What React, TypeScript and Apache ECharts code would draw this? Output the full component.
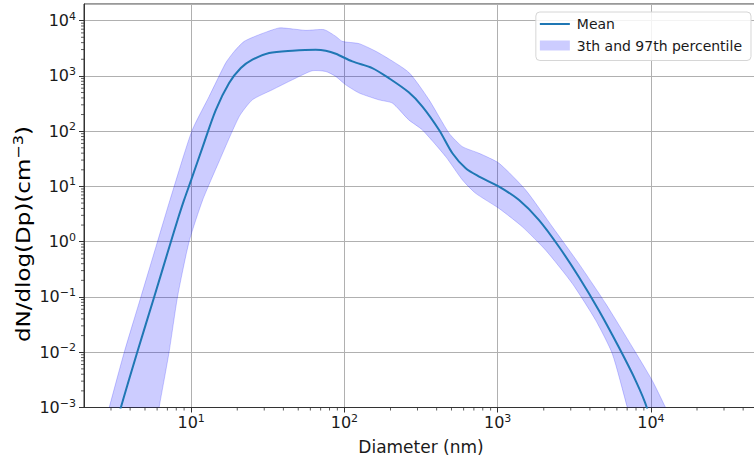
import React, { useEffect, useRef } from 'react';
import * as echarts from 'echarts';

// Mean size distribution
const meanX = [2.78, 3.48, 4.45, 5.74, 7.38, 8.15, 9.0, 10, 11.9, 14.5, 17.7, 21.1, 25.1, 32.3, 45.8, 65, 75.6, 87.9, 112.7, 152, 195, 263, 323, 415, 507, 619, 757, 1021, 1380, 1862, 2513, 3390, 4580, 6170, 7940, 9400, 11500];
const meanY = [0.0001, 0.001, 0.01, 0.1, 1, 2.45, 5.7, 13, 52, 243, 742, 1387, 1963, 2594, 2858, 2977, 2858, 2512, 1828, 1387, 912, 505, 279, 105, 39.8, 21.3, 15.1, 9.9, 5.67, 2.46, 0.81, 0.23, 0.057, 0.0124, 0.0031, 0.001, 0.0001];

// 97th percentile (upper edge of band)
const upperX = [2.33, 2.92, 3.66, 4.7, 6.03, 7.28, 10.1, 13.1, 16.8, 19.1, 22.2, 27.8, 37.5, 45.8, 56, 73.8, 87.9, 97, 125, 168, 263, 357, 482, 589, 757, 1021, 1525, 2275, 3390, 5070, 7570, 10190, 12470, 18800];
const upperY = [0.0001, 0.001, 0.01, 0.1, 1, 5.7, 100, 424, 1710, 2773, 4215, 5570, 7380, 7080, 6670, 6870, 5190, 4215, 3830, 2600, 1160, 369, 92, 52.5, 39.8, 26.3, 8.6, 1.86, 0.4, 0.076, 0.0124, 0.0031, 0.001, 0.0001];

// 3th percentile (lower edge of band)
const lowerX = [5.32, 6.18, 7.18, 8.15, 9.7, 11.9, 15.2, 20.6, 25.1, 33.9, 45.8, 61.8, 75.6, 87.9, 102, 125, 168, 206, 263, 323, 458, 589, 719, 1021, 1449, 2060, 3070, 4365, 5600, 7020, 8860];
const lowerY = [0.0001, 0.001, 0.01, 0.1, 1, 5.7, 28, 184, 369, 561, 851, 1239, 1202, 977, 690, 489, 369, 321, 160, 105, 34.7, 13.1, 7.5, 4.0, 1.86, 0.7, 0.175, 0.0378, 0.0094, 0.001, 0.0001];

// Axis ranges and minor tick positions
const xRange = [2, 50000];
const yRange = [0.001, 20000];
const xMinorTicks = [3, 4, 5, 6, 7, 8, 9, 20, 30, 40, 50, 60, 70, 80, 90, 200, 300, 400, 500, 600, 700, 800, 900, 2000, 3000, 4000, 5000, 6000, 7000, 8000, 9000, 20000, 30000, 40000];
const yMinorTicks = [0.002, 0.003, 0.004, 0.005, 0.006, 0.007, 0.008, 0.009, 0.02, 0.03, 0.04, 0.05, 0.06, 0.07, 0.08, 0.09, 0.2, 0.3, 0.4, 0.5, 0.6, 0.7, 0.8, 0.9, 2, 3, 4, 5, 6, 7, 8, 9, 20, 30, 40, 50, 60, 70, 80, 90, 200, 300, 400, 500, 600, 700, 800, 900, 2000, 3000, 4000, 5000, 6000, 7000, 8000, 9000];

const FONT = 'DejaVu Sans';
const MEAN_NAME = 'Mean';
const BAND_NAME = '3th and 97th percentile';

function powLabel(v: number): string {
  const l = Math.log10(v);
  const e = Math.round(l);
  if (Math.abs(l - e) > 1e-6) return '';
  const sup = e < 0 ? '\u2212' + String(-e) : String(e);
  return '{b|10}{s|' + sup + '}';
}

const tickRich = {
  b: { fontSize: 16, fontFamily: FONT, color: '#1a1a1a', lineHeight: 20 },
  s: { fontSize: 11, fontFamily: FONT, color: '#1a1a1a', lineHeight: 11, verticalAlign: 'top' },
};

export default function App() {
  const ref = useRef<HTMLDivElement>(null);
  useEffect(() => {
    if (!ref.current) return;
    const chart = echarts.init(ref.current, undefined, { renderer: 'svg' });
    const option: any = {
      animation: false,
      backgroundColor: '#ffffff',
      grid: {
        left: 84, top: 4, width: 674, height: 403.5,
        show: true, borderColor: '#333', borderWidth: 1, backgroundColor: 'transparent',
        containLabel: false, outerBoundsMode: 'none',
      },
      legend: {
        orient: 'vertical', right: 3, top: 12,
        itemWidth: 30, itemHeight: 10, itemGap: 7.5,
        padding: [5, 9, 8, 4],
        backgroundColor: 'rgba(255,255,255,0.85)',
        borderColor: '#d6d6d6', borderWidth: 1, borderRadius: 4,
        textStyle: { fontSize: 14, fontFamily: FONT, color: '#1a1a1a', padding: [0, 0, 0, 2] },
        data: [
          { name: MEAN_NAME, icon: 'path://M0,0L0.01,0L0.01,0.01Z M0,4.1L30,4.1L30,5.9L0,5.9Z M29.99,9.99L30,9.99L30,10Z', itemStyle: { color: '#1f77b4' } },
          { name: BAND_NAME, icon: 'rect', itemStyle: { color: 'rgba(0,0,255,0.2)', borderWidth: 0 } },
        ],
      },
      xAxis: {
        type: 'log', logBase: 10, min: xRange[0], max: xRange[1],
        name: 'Diameter (nm)', nameLocation: 'middle', nameGap: 31,
        nameTextStyle: { fontSize: 17, fontFamily: FONT, color: '#1a1a1a' },
        axisLine: { show: true, lineStyle: { color: '#333', width: 1 } },
        axisTick: { show: true, length: 5, lineStyle: { color: '#333', width: 1 } },
        axisLabel: { formatter: powLabel, rich: tickRich, margin: 5, showMinLabel: false, showMaxLabel: false },
        splitLine: { show: true, lineStyle: { color: '#b0b0b0', width: 1 } },
      },
      yAxis: {
        type: 'log', logBase: 10, min: yRange[0], max: yRange[1],
        axisLine: { show: true, lineStyle: { color: '#333', width: 1 } },
        axisTick: { show: true, length: 5, lineStyle: { color: '#333', width: 1 } },
        axisLabel: { formatter: powLabel, rich: tickRich, margin: 8, showMinLabel: true, showMaxLabel: false },
        splitLine: { show: true, lineStyle: { color: '#b0b0b0', width: 1 } },
      },
      graphic: [
        {
          type: 'text', x: 23, y: 234, rotation: Math.PI / 2, scaleX: 1.15, z: 10,
          style: {
            text: '{t|dN/dlog(Dp)(cm}{s|\u22123}{t|)}',
            align: 'center', verticalAlign: 'middle',
            rich: {
              t: { fontSize: 20, fontFamily: FONT, color: '#1a1a1a', lineHeight: 24 },
              s: { fontSize: 14, fontFamily: FONT, color: '#1a1a1a', lineHeight: 14, verticalAlign: 'top' },
            },
          },
        },
      ],
      series: [
        {
          name: BAND_NAME,
          type: 'custom',
          coordinateSystem: 'cartesian2d',
          clip: true,
          silent: true,
          z: 2,
          itemStyle: { color: 'rgba(0,0,255,0.2)' },
          data: [[upperX[1], upperY[1]]],
          renderItem: (params: any, api: any) => {
            if (params.dataIndex !== 0) return null;
            const pts: number[][] = [];
            for (let i = 0; i < upperX.length; i++) pts.push(api.coord([upperX[i], upperY[i]]));
            for (let i = lowerX.length - 1; i >= 0; i--) pts.push(api.coord([lowerX[i], lowerY[i]]));
            return {
              type: 'polygon',
              shape: { points: pts, smooth: 0.2 },
              style: { fill: 'rgba(0,0,255,0.2)', stroke: 'rgba(0,0,255,0.2)', lineWidth: 1 },
            };
          },
        },
        {
          name: MEAN_NAME,
          type: 'line',
          z: 4,
          symbol: 'none',
          smooth: 0.3,
          lineStyle: { color: '#1f77b4', width: 2 },
          itemStyle: { color: '#1f77b4' },
          data: meanX.map((x, i) => [x, meanY[i]]),
        },
        {
          name: 'xMinor',
          type: 'custom',
          coordinateSystem: 'cartesian2d',
          silent: true,
          z: 6,
          data: xMinorTicks.map((v) => [v, yRange[0]]),
          renderItem: (params: any, api: any) => {
            const p = api.coord([api.value(0), yRange[0]]);
            return { type: 'line', shape: { x1: p[0], y1: p[1], x2: p[0], y2: p[1] + 3 }, style: { stroke: '#333', lineWidth: 0.8 } };
          },
        },
        {
          name: 'yMinor',
          type: 'custom',
          coordinateSystem: 'cartesian2d',
          silent: true,
          z: 6,
          data: yMinorTicks.map((v) => [xRange[0], v]),
          renderItem: (params: any, api: any) => {
            const p = api.coord([xRange[0], api.value(1)]);
            return { type: 'line', shape: { x1: p[0] - 3, y1: p[1], x2: p[0], y2: p[1] }, style: { stroke: '#333', lineWidth: 0.8 } };
          },
        },
      ],
    };
    chart.setOption(option);
    return () => chart.dispose();
  }, []);
  return <div ref={ref} style={{ position: 'fixed', left: 0, top: 0, width: 754, height: 457 }} />;
}
